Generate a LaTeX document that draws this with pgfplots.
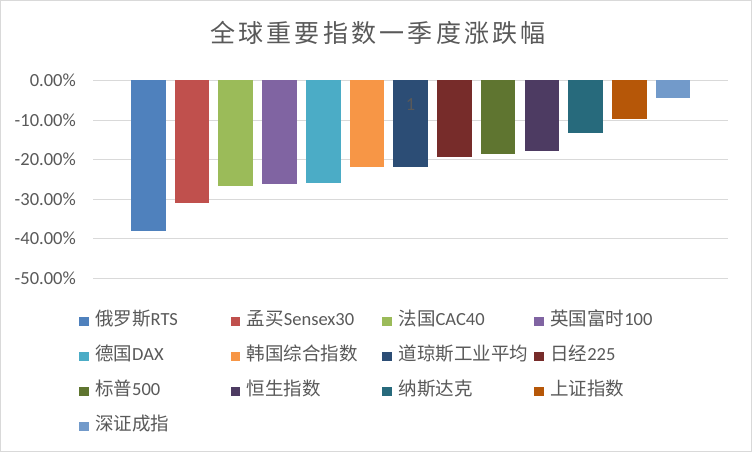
\documentclass[border=0pt]{standalone}
\usepackage{fontspec}
\setmainfont{Carlito}
\newfontfamily\cjk{Noto Sans CJK SC}
\newfontfamily\titlefont[LetterSpace=13]{Noto Sans CJK SC}
\usepackage{pgfplots}
\pgfplotsset{compat=1.18}
\definecolor{c1}{HTML}{4F81BD}
\definecolor{c2}{HTML}{C0504D}
\definecolor{c3}{HTML}{9BBB59}
\definecolor{c4}{HTML}{8064A2}
\definecolor{c5}{HTML}{4BACC6}
\definecolor{c6}{HTML}{F79646}
\definecolor{c7}{HTML}{2C4D75}
\definecolor{c8}{HTML}{772C2A}
\definecolor{c9}{HTML}{5F7530}
\definecolor{c10}{HTML}{4D3B62}
\definecolor{c11}{HTML}{276A7C}
\definecolor{c12}{HTML}{B65708}
\definecolor{c13}{HTML}{729ACA}
\definecolor{textgray}{HTML}{595959}
\definecolor{gridgray}{HTML}{D9D9D9}
\definecolor{bordergray}{HTML}{D9D9D9}
\newcommand\LE[1]{\makebox[142bp][l]{\hspace{6.5bp}#1}}
\begin{document}
\begin{tikzpicture}
\useasboundingbox (0,0) rectangle (752bp,452bp);
\fill[white] (0,0) rectangle (752bp,452bp);
\draw[bordergray, line width=0.75bp] (0.5bp,0.5bp) rectangle (751.5bp,451.5bp);
\node[font=\titlefont\fontsize{25bp}{28bp}\selectfont, text=textgray] at (378bp,419bp) {全球重要指数一季度涨跌幅};
\begin{axis}[
  at={(93bp,173.7bp)}, anchor=south west,
  scale only axis, width=634.7bp, height=197.8bp,
  xmin=-0.265, xmax=14.25, ymin=-50, ymax=0,
  xtick=\empty,
  ytick={-50,-40,-30,-20,-10,0},
  yticklabels={-50.00\%,-40.00\%,-30.00\%,-20.00\%,-10.00\%,0.00\%},
  yticklabel style={font=\fontsize{18.5bp}{20bp}\selectfont, text=textgray, inner sep=0pt, anchor=east, xshift=-17bp},
  major tick length=0pt,
  ymajorgrids, grid style={gridgray, line width=1bp},
  axis line style={draw=none},
  every axis plot/.append style={ybar, bar width=0.794, bar shift=0pt, draw=none,
    legend image code/.code={\fill[##1,draw=none] (0bp,-4.85bp) rectangle (9.7bp,4.85bp);}},
  legend columns=4,
  legend cell align=left,
  legend style={at={(axis description cs:-0.02206,-0.1754)}, anchor=north west,
    draw=none, fill=none, inner sep=0pt, outer sep=0pt, column sep=0pt, row sep=18bp,
    font=\fontsize{18.5bp}{20bp}\selectfont, text=textgray,
    nodes={inner sep=0pt, outer sep=0pt, text height=13bp, text depth=4bp}},
]
\addplot[fill=c1] coordinates {(1,-38.04)};
\addlegendentry{\LE{{\cjk 俄罗斯}RTS}}
\addplot[fill=c2] coordinates {(2,-30.9)};
\addlegendentry{\LE{{\cjk 孟买}Sensex30}}
\addplot[fill=c3] coordinates {(3,-26.6)};
\addlegendentry{\LE{{\cjk 法国}CAC40}}
\addplot[fill=c4] coordinates {(4,-26.1)};
\addlegendentry{\LE{{\cjk 英国富时}100}}
\addplot[fill=c5] coordinates {(5,-25.8)};
\addlegendentry{\LE{{\cjk 德国}DAX}}
\addplot[fill=c6] coordinates {(6,-21.8)};
\addlegendentry{\LE{{\cjk 韩国综合指数}}}
\addplot[fill=c7] coordinates {(7,-21.9)};
\addlegendentry{\LE{{\cjk 道琼斯工业平均}}}
\addplot[fill=c8] coordinates {(8,-19.3)};
\addlegendentry{\LE{{\cjk 日经}225}}
\addplot[fill=c9] coordinates {(9,-18.5)};
\addlegendentry{\LE{{\cjk 标普}500}}
\addplot[fill=c10] coordinates {(10,-17.7)};
\addlegendentry{\LE{{\cjk 恒生指数}}}
\addplot[fill=c11] coordinates {(11,-13.2)};
\addlegendentry{\LE{{\cjk 纳斯达克}}}
\addplot[fill=c12] coordinates {(12,-9.7)};
\addlegendentry{\LE{{\cjk 上证指数}}}
\addplot[fill=c13] coordinates {(13,-4.35)};
\addlegendentry{\LE{{\cjk 深证成指}}}
\node[font=\fontsize{18.5bp}{20bp}\selectfont, text=textgray] at (axis cs:7,-6.07) {1};
\end{axis}
\end{tikzpicture}
\end{document}
